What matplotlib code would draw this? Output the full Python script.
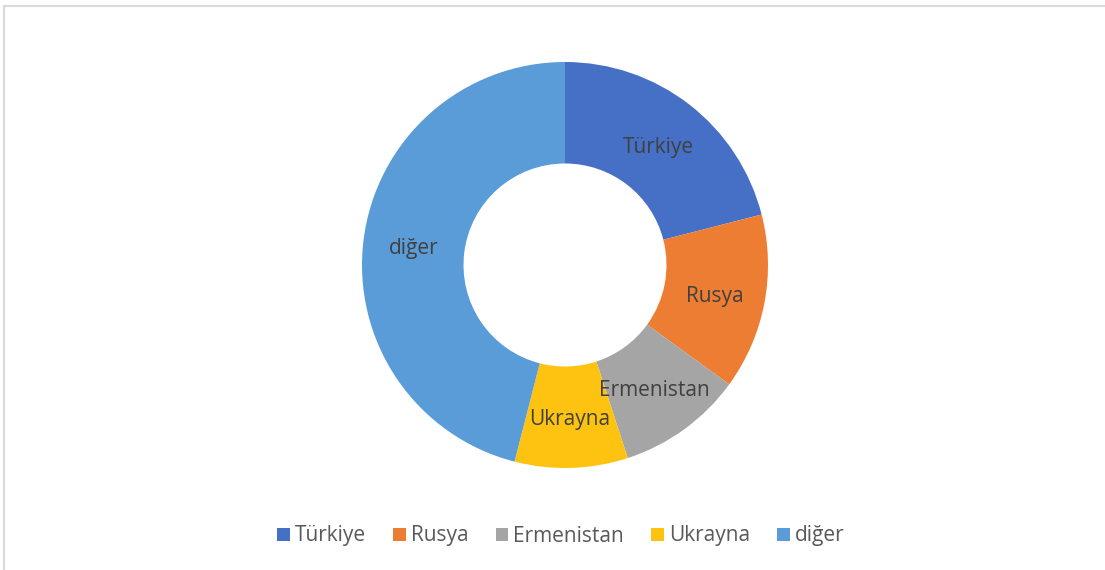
import matplotlib.pyplot as plt
from matplotlib.lines import Line2D

# ülke dağılımı (yüzde)
countries = ['Türkiye', 'Rusya', 'Ermenistan', 'Ukrayna', 'diğer']
shares = [21, 14, 10, 9, 46]
colors = ['#4570C6', '#EE7D34', '#A5A5A5', '#FEC310', '#5A9CD8']

plt.rcParams['font.family'] = ['Open Sans', 'DejaVu Sans']

fig = plt.figure(figsize=(11.05, 5.70), dpi=100)
W, H = 1105, 570
cx, cy, r = 565, 265, 203
ax = fig.add_axes([(cx - r) / W, (H - cy - r) / H, 2 * r / W, 2 * r / H])

wedges, texts = ax.pie(shares, colors=colors, startangle=90, counterclock=False,
                       radius=1.0, labels=countries, labeldistance=0.75,
                       wedgeprops=dict(width=0.5, linewidth=0),
                       textprops=dict(color='#404040', fontsize=15, ha='center',
                                      va='center_baseline'))
ax.set_xlim(-1, 1)
ax.set_ylim(-1, 1)
ax.set_aspect('equal')
ax.axis('off')

# çerçeve (üst ve sol kenar)
fig.add_artist(Line2D([4 / W, 1], [1 - 6 / H, 1 - 6 / H], color='#d9d9d9', lw=1.5))
fig.add_artist(Line2D([4 / W, 4 / W], [0, 1 - 6 / H], color='#d9d9d9', lw=1.5))

fig.legend(wedges, countries, loc='center', bbox_to_anchor=(561 / W, 1 - 536 / H),
           ncol=5, frameon=False, fontsize=15, labelcolor='#595959',
           handlelength=0.6, handleheight=0.6, handletextpad=0.25, columnspacing=1.3)

plt.savefig('out.png', dpi=100)
